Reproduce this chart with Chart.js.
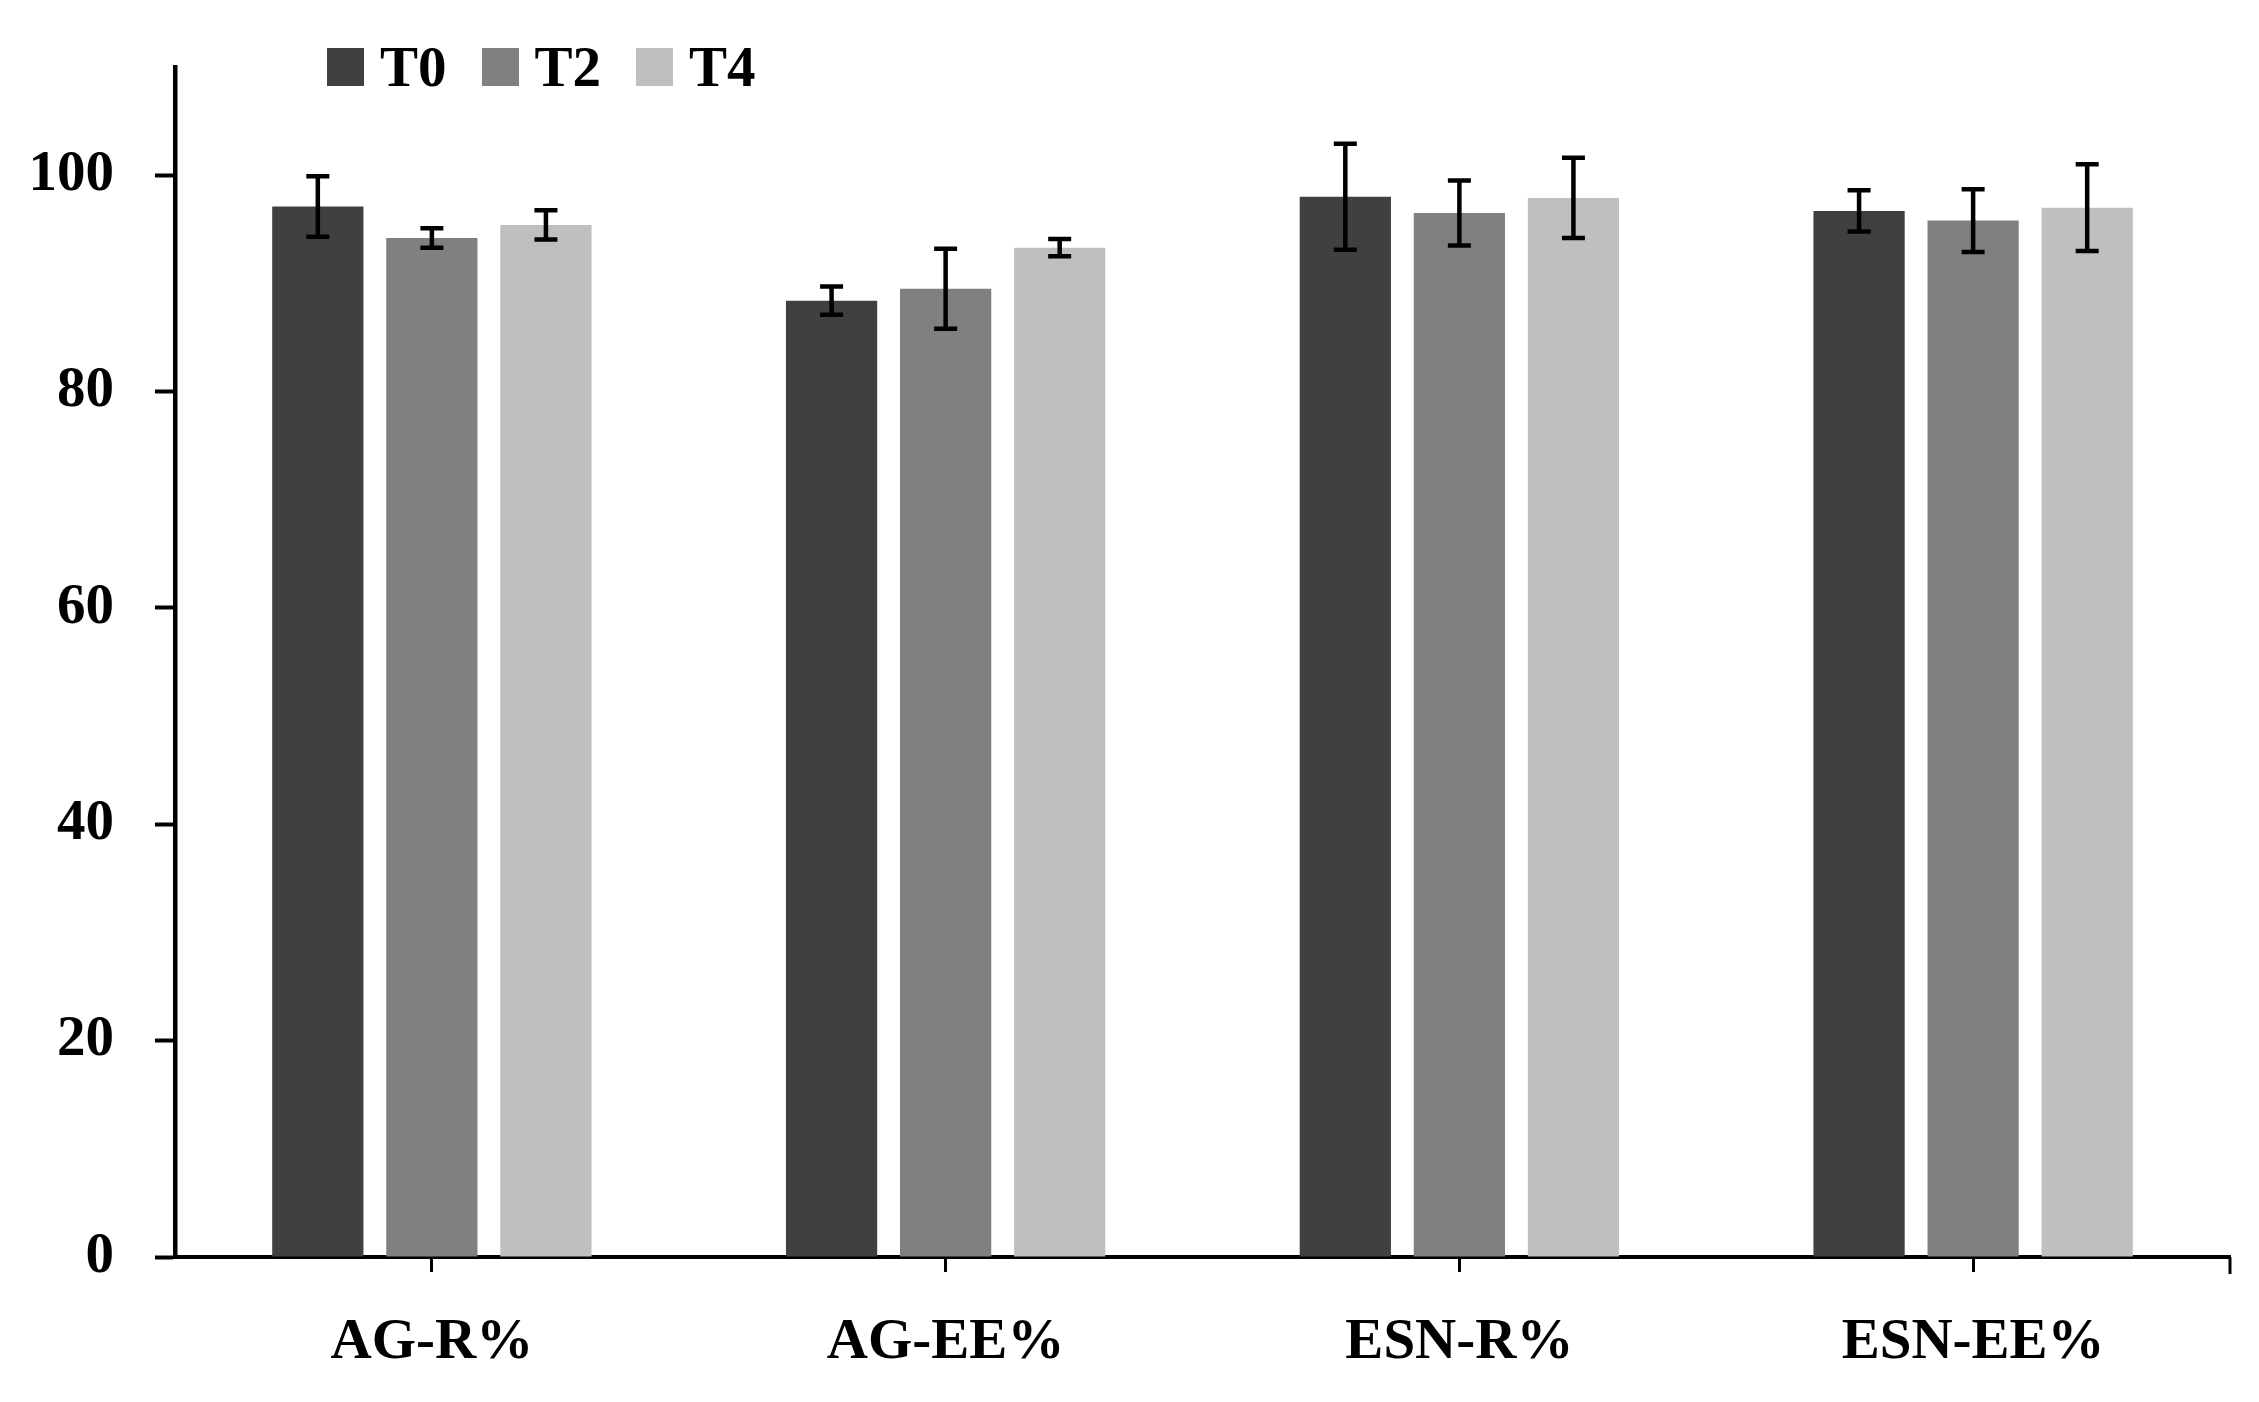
<!DOCTYPE html>
<html>
<head>
<meta charset="utf-8">
<script src="https://cdn.jsdelivr.net/npm/chart.js@4.4.0/dist/chart.umd.min.js"></script>
<style>
  html, body { margin: 0; padding: 0; background: #fff; }
  #wrap { position: relative; width: 2259px; height: 1402px; }
  #legend { position: absolute; left: 327px; top: 38px; display: flex;
            font: bold 57px "Liberation Serif", serif; line-height: 1; color: #000; }
  #legend .item { display: flex; align-items: center; margin-right: 35px; }
  #legend .swatch { width: 37px; height: 38px; margin-right: 16px; }
</style>
</head>
<body>
<div id="wrap">
  <canvas id="chart" width="2259" height="1402"></canvas>
  <div id="legend"></div>
</div>
<script>
const categories = ['AG-R%', 'AG-EE%', 'ESN-R%', 'ESN-EE%'];
const seriesNames = ['T0', 'T2', 'T4'];
const seriesColors = ['#404040', '#808080', '#bfbfbf'];

const t0Values = [97.1, 88.4, 98.0, 96.7];
const t2Values = [94.2, 89.5, 96.5, 95.8];
const t4Values = [95.4, 93.3, 97.9, 97.0];

// error bar half-lengths
const t0Errors = [2.8, 1.3, 4.9, 1.9];
const t2Errors = [0.9, 3.7, 3.0, 2.9];
const t4Errors = [1.35, 0.8, 3.7, 4.0];

const yTicks = [0, 20, 40, 60, 80, 100];

const allValues = [t0Values, t2Values, t4Values];
const allErrors = [t0Errors, t2Errors, t4Errors];

// legend
const legend = document.getElementById('legend');
seriesNames.forEach((name, i) => {
    const item = document.createElement('div');
    item.className = 'item';
    const sw = document.createElement('div');
    sw.className = 'swatch';
    sw.style.background = seriesColors[i];
    const txt = document.createElement('span');
    txt.textContent = name;
    item.appendChild(sw);
    item.appendChild(txt);
    legend.appendChild(item);
});

// error bars + right end tick
const errorBars = {
    id: 'errorBars',
    afterDatasetsDraw(chart) {
        const ctx = chart.ctx;
        const y = chart.scales.y;
        ctx.save();
        ctx.strokeStyle = '#000';
        ctx.lineWidth = 4.5;
        chart.data.datasets.forEach((ds, i) => {
            chart.getDatasetMeta(i).data.forEach((bar, j) => {
                const v = ds.data[j], e = allErrors[i][j];
                const top = y.getPixelForValue(v + e);
                const bot = y.getPixelForValue(v - e);
                const x = bar.x, cap = 11.5;
                ctx.beginPath();
                ctx.moveTo(x, top); ctx.lineTo(x, bot);
                ctx.moveTo(x - cap, top); ctx.lineTo(x + cap, top);
                ctx.moveTo(x - cap, bot); ctx.lineTo(x + cap, bot);
                ctx.stroke();
            });
        });
        const a = chart.chartArea;
        ctx.lineWidth = 3;
        ctx.beginPath();
        ctx.moveTo(a.right, a.bottom);
        ctx.lineTo(a.right, a.bottom + 17);
        ctx.stroke();
        ctx.restore();
    }
};

const font = { family: '"Liberation Serif", serif', size: 57, weight: 'bold' };

new Chart(document.getElementById('chart'), {
    type: 'bar',
    data: {
        labels: categories,
        datasets: seriesNames.map((name, i) => ({
            label: name,
            data: allValues[i],
            backgroundColor: seriesColors[i],
            categoryPercentage: 0.666,
            barPercentage: 0.8
        }))
    },
    options: {
        responsive: false,
        animation: false,
        layout: { padding: { left: 0, right: 29, top: 67, bottom: 0 } },
        plugins: { legend: { display: false }, tooltip: { enabled: false } },
        scales: {
            x: {
                grid: { offset: false, drawOnChartArea: false, drawTicks: true,
                        tickLength: 15, tickWidth: 3, tickColor: '#000' },
                border: { display: true, color: '#000', width: 4 },
                ticks: { color: '#000', font: font, padding: 37, maxRotation: 0 },
                afterFit(scale) { scale.height = 145; }
            },
            y: {
                min: 0,
                max: 110,
                afterBuildTicks(scale) { scale.ticks = yTicks.map(v => ({ value: v })); },
                grid: { drawOnChartArea: false, drawTicks: true,
                        tickLength: 20, tickWidth: 4, tickColor: '#000' },
                border: { display: true, color: '#000', width: 4.5 },
                ticks: { color: '#000', font: font, padding: 41 },
                afterFit(scale) {
                    scale.width = 175;
                    scale.paddingTop = 0;
                    scale.paddingBottom = 0;
                }
            }
        }
    },
    plugins: [errorBars]
});
</script>
</body>
</html>
